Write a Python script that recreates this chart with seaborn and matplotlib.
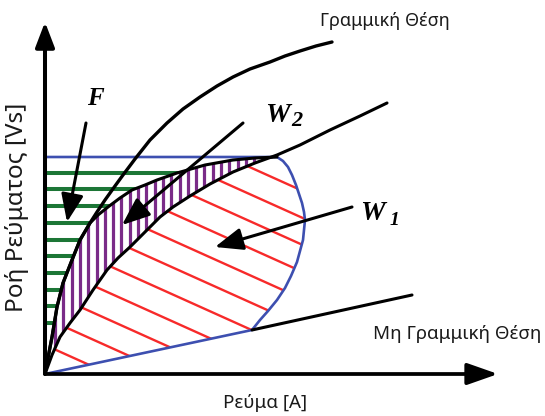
import matplotlib
matplotlib.use('Agg')
import matplotlib.pyplot as plt
import numpy as np
import pandas as pd
import seaborn as sns

from matplotlib.collections import LineCollection
from matplotlib.patches import Polygon

# diagram units: current (i) and flux (psi) measured from the axis origin
aligned_i = [0, 2, 7, 12, 18, 27, 35, 45, 52, 60, 70, 78, 90, 105, 122, 138, 155, 172, 188, 205, 225, 240, 255, 271, 287]
aligned_psi = [0, 11, 37, 67, 91, 114, 134, 151, 162, 174, 188, 199, 215, 234, 251, 265, 277, 288, 297, 305, 312, 318, 323, 328, 332]

path_i = [0, 2, 7, 12, 18, 27, 35, 45, 53, 63, 75, 87, 100, 112, 132, 160, 188, 210, 232]
path_psi = [0, 11, 37, 67, 91, 114, 134, 151, 159, 167, 176, 184, 189, 194, 201, 209, 214, 216, 217]

mid_i = [0, 7, 15, 25, 35, 48, 62, 73, 85, 105, 115, 128, 145, 165, 188, 210, 232, 255, 285, 315, 342]
mid_psi = [0, 19, 37, 51, 64, 84, 104, 116, 127, 147, 157, 167, 178, 190, 202, 211, 219, 229, 244, 258, 271]

loop_i = [0, 232, 238, 243, 247, 251, 254, 257, 259, 260, 259, 258, 255, 252, 246, 240, 232, 223, 215, 207, 0]
loop_psi = [217, 217, 213, 207, 199, 189, 180, 171, 162, 154, 144, 134, 123, 112, 98, 86, 74, 63, 54, 44, 0]

unaligned_i = [207, 367]
unaligned_psi = [44, 79]

x_label = 'Ρεύμα [A]'
y_label = 'Ροή Ρεύματος [Vs]'
aligned_label = 'Γραμμική Θέση'
unaligned_label = 'Μη Γραμμική Θέση'

# hatch styles
green_step, purple_step, red_step, red_slope = 16.7, 8.3, 27.0, -0.45

sns.set_theme(style='white')
plt.rcParams['font.family'] = ['Noto Sans', 'DejaVu Sans']

fig = plt.figure(figsize=(5.45, 4.16), dpi=100)
ax = fig.add_axes([0, 0, 1, 1])
ax.set_xlim(-45, 500)
ax.set_ylim(-42, 374)
ax.axis('off')

n_mid = mid_i.index(232) + 1

f_poly = np.column_stack([[0] + path_i[::-1], [217] + path_psi[::-1]])
w2_poly = np.column_stack([path_i + mid_i[:n_mid][::-1], path_psi + mid_psi[:n_mid][::-1]])
w1_poly = np.column_stack([mid_i[:n_mid] + loop_i[1:], mid_psi[:n_mid] + loop_psi[1:]])


def clipped(segs, poly, color, lw):
    patch = Polygon(poly, closed=True, facecolor='none', edgecolor='none')
    ax.add_patch(patch)
    lc = LineCollection(segs, colors=color, linewidths=lw, capstyle='butt')
    ax.add_collection(lc)
    lc.set_clip_path(patch)


green = np.arange(51, 210, green_step)
clipped([[(0, p), (240, p)] for p in green], f_poly, '#1c7636', 2.9)

purple = np.arange(10, 240, purple_step)
clipped([[(q, 0), (q, 230)] for q in purple], w2_poly, '#7a2b88', 2.3)

red = np.arange(29, 310, red_step)
clipped([[(-20, b - 20 * red_slope), (320, b + 320 * red_slope)] for b in red], w1_poly, '#f72a2a', 1.7)

sns.lineplot(x=loop_i, y=loop_psi, sort=False, estimator=None, color='#3d4fb0', lw=1.9, ax=ax)
sns.lineplot(x=aligned_i, y=aligned_psi, sort=False, estimator=None, color='black', lw=2.4, ax=ax)
sns.lineplot(x=path_i, y=path_psi, sort=False, estimator=None, color='black', lw=2.2, ax=ax)
sns.lineplot(x=mid_i, y=mid_psi, sort=False, estimator=None, color='black', lw=2.2, ax=ax)
sns.lineplot(x=unaligned_i, y=unaligned_psi, sort=False, estimator=None, color='black', lw=2.2, ax=ax)

# axes
ax.annotate('', xy=(453, 0), xytext=(0, 0),
            arrowprops=dict(arrowstyle='-|>,head_length=0.94,head_width=0.33', lw=2.7, color='black',
                            mutation_scale=20, shrinkA=0, shrinkB=0))
ax.annotate('', xy=(0, 352), xytext=(0, 0),
            arrowprops=dict(arrowstyle='-|>,head_length=0.76,head_width=0.29', lw=2.9, color='black',
                            mutation_scale=20, shrinkA=0, shrinkB=0))

# pointers
for tip, start in [((22, 152), (41, 251)), ((77, 149), (198, 251)), ((170, 127), (307, 167))]:
    ax.annotate('', xy=tip, xytext=start,
                arrowprops=dict(arrowstyle='-|>,head_length=0.85,head_width=0.34', lw=2.2, color='black',
                                mutation_scale=20, shrinkA=0, shrinkB=0))

serif = dict(family='Liberation Serif', style='italic', weight='bold', color='black')
ax.text(42, 269, 'F', fontsize=18, **serif)
ax.text(220, 252, 'W', fontsize=20, **serif)
ax.text(246, 248, '2', fontsize=16, **serif)
ax.text(315, 154, 'W', fontsize=20, **serif)
ax.text(345, 149, '1', fontsize=14, **serif)

ax.text(275, 348, aligned_label, fontsize=13, color='#1a1a1a')
ax.text(328, 35, unaligned_label, fontsize=13.5, color='#1a1a1a')
ax.text(220, -34, x_label, fontsize=13.5, ha='center', color='#1a1a1a')
ax.text(-28, 167, y_label, fontsize=17.5, rotation=90, ha='center', va='center', color='#1a1a1a')

plt.savefig('out.png', dpi=100)
plt.close()
